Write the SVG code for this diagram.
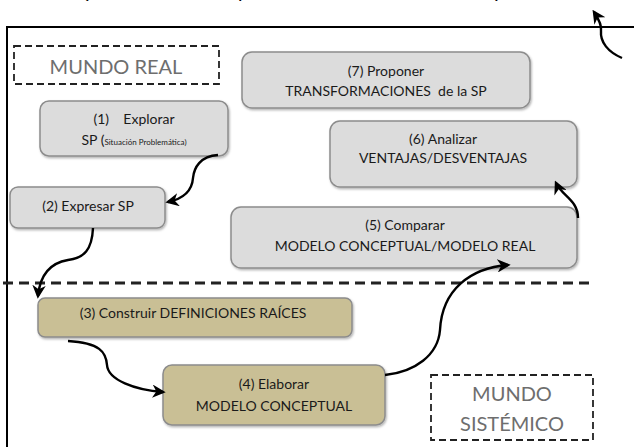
<svg xmlns="http://www.w3.org/2000/svg" width="634" height="447" viewBox="0 0 634 447">
<defs>
<marker id="ah" viewBox="0 0 10 10" refX="8" refY="5" markerWidth="5.6" markerHeight="5.6" orient="auto" markerUnits="strokeWidth">
<path d="M0,0 L10,5 L0,10 L3,5 Z" fill="#000"/>
</marker>
<marker id="ahb" viewBox="0 0 10 10" refX="8" refY="5" markerWidth="6.5" markerHeight="6.5" orient="auto" markerUnits="strokeWidth">
<path d="M0,0 L10,5 L0,10 L2,5 Z" fill="#000"/>
</marker>
<filter id="sh" x="-5%" y="-5%" width="110%" height="120%">
<feDropShadow dx="1" dy="1.5" stdDeviation="1" flood-color="#000" flood-opacity="0.3"/>
</filter>
</defs>
<style>
.box{fill:#dcdcdc;stroke:#8c8c8c;stroke-width:1.5}
.kh{fill:#c9bf95;stroke:#8c8c8c;stroke-width:1.5}
.t{font-family:Lato,"Open Sans","Liberation Sans",sans-serif;font-size:14px;fill:#1a1a1a;text-anchor:middle;white-space:pre}
.lbl{font-family:Lato,"Open Sans","Liberation Sans",sans-serif;font-size:20px;fill:#6e6e6e;text-anchor:middle}
.dash{fill:none;stroke:#222;stroke-width:1.8;stroke-dasharray:7,4}
.c{fill:none;stroke:#000;stroke-width:2.4;marker-end:url(#ah)}
.cut{font-family:"Liberation Sans",sans-serif;font-size:20px;fill:#000}
</style>
<rect width="634" height="447" fill="#fff"/>
<text class="cut" x="82" y="-3">(</text>
<text class="cut" x="238" y="-3">p</text>
<text class="cut" x="495" y="-3">)</text>
<path d="M7,447 V27 H634" fill="none" stroke="#000" stroke-width="2"/>
<line x1="3" y1="283" x2="592" y2="283" stroke="#222" stroke-width="3" stroke-dasharray="10,6"/>
<g id="mundo-real">
<rect class="dash" x="14" y="46" width="205" height="38"/>
<text class="lbl" x="116" y="74">MUNDO REAL</text>
</g>
<g id="n1">
<rect class="box" x="40" y="101" width="188" height="55" rx="9" filter="url(#sh)"/>
<text class="t" x="134" y="124" xml:space="preserve">(1)    Explorar</text>
<text class="t" x="134" y="145">SP (<tspan font-size="8">Situación Problemática)</tspan></text>
</g>
<g id="n2">
<rect class="box" x="10" y="187" width="155" height="41" rx="8" filter="url(#sh)"/>
<text class="t" x="88" y="211" font-size="14.5">(2) Expresar SP</text>
</g>
<g id="n7">
<rect class="box" x="242" y="52" width="288" height="56" rx="10" filter="url(#sh)"/>
<text class="t" x="386" y="76">(7) Proponer</text>
<text class="t" x="386" y="96" xml:space="preserve">TRANSFORMACIONES  de la SP</text>
</g>
<g id="n6">
<rect class="box" x="330" y="121" width="247" height="66" rx="10" filter="url(#sh)"/>
<text class="t" x="443" y="144">(6) Analizar</text>
<text class="t" x="443" y="163">VENTAJAS/DESVENTAJAS</text>
</g>
<g id="n5">
<rect class="box" x="231" y="207" width="346" height="61" rx="10" filter="url(#sh)"/>
<text class="t" x="405" y="230">(5) Comparar</text>
<text class="t" x="405" y="251">MODELO CONCEPTUAL/MODELO REAL</text>
</g>
<g id="n3">
<rect class="kh" x="38" y="298" width="314" height="39" rx="7" filter="url(#sh)"/>
<text class="t" x="193" y="318" font-size="12.5">(3) Construir DEFINICIONES RAÍCES</text>
</g>
<g id="n4">
<rect class="kh" x="163" y="365" width="222" height="60" rx="9" filter="url(#sh)"/>
<text class="t" x="274" y="389">(4) Elaborar</text>
<text class="t" x="274" y="411">MODELO CONCEPTUAL</text>
</g>
<g id="mundo-sistemico">
<rect class="dash" x="431" y="375" width="162" height="65"/>
<text class="lbl" x="512" y="401">MUNDO</text>
<text class="lbl" x="512" y="431">SISTÉMICO</text>
</g>
<g id="connectors">
<path class="c" d="M218,155 C200,156 194,168 193,178 C192,192 182,199 168,202"/>
<path class="c" d="M93,228 C92,250 84,258 68,260 C50,263 40,275 38,296"/>
<path class="c" d="M68,341 C100,343 106,352 107,365 C108,380 135,390 163,392" marker-end="url(#ahb)"/>
<path class="c" d="M385,375 C415,372 438,355 440,330 C442,290 470,268 508,265"/>
<path class="c" d="M578,218 C578,200 562,196 556,183"/>
<path class="c" d="M622,58 C608,52 600,42 601,31 C602,25 598,18 594,12"/>
</g>
</svg>
